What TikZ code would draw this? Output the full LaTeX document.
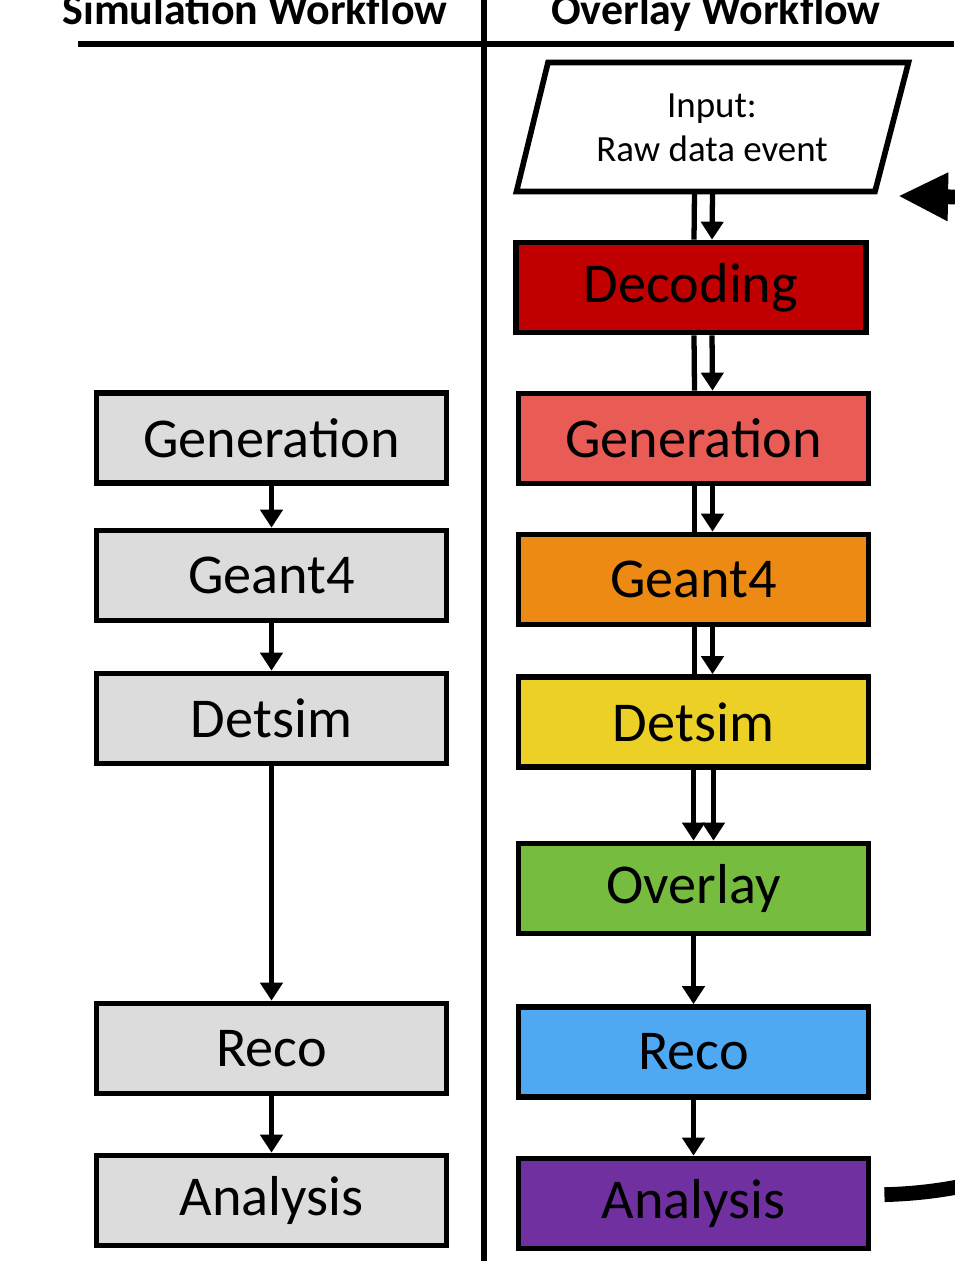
\documentclass[tikz,border=0pt]{standalone}
\usepackage{fontspec}
\setmainfont{Carlito}
\usetikzlibrary{arrows.meta}

\definecolor{simgray}{HTML}{DCDCDC}
\definecolor{decred}{HTML}{C00000}
\definecolor{genred}{HTML}{E95C55}
\definecolor{g4orange}{HTML}{EC8A14}
\definecolor{detyellow}{HTML}{EDD025}
\definecolor{ovlgreen}{HTML}{76BC3E}
\definecolor{recoblue}{HTML}{4EA9F2}
\definecolor{anapurple}{HTML}{7030A0}

\begin{document}
\begin{tikzpicture}[x=0.01cm, y=-0.01cm,
    box/.style={draw, line width=1.6pt, minimum width=3.5cm, minimum height=0.9cm,
        inner sep=0pt, font=\fontsize{16}{19}\selectfont},
    lin/.style={line width=1.5pt},
    arr/.style={line width=1.5pt, -{Triangle[length=0.18cm, width=0.22cm]}}]
    \useasboundingbox (0,0) rectangle (954,1261);

    % naslova in razdelilni črti
    \node[anchor=base, font=\bfseries\fontsize{12.5}{15}\selectfont] (simt) at (255,25) {Simulation Workflow};
    \node[anchor=base, font=\bfseries\fontsize{12.5}{15}\selectfont] (ovlt) at (716,25) {Overlay Workflow};
    \draw[line width=1.8pt] (78,44) -- (954,44);
    \draw[line width=1.5pt] (484,0) -- (484,1261);

    % simulacija
    \node[box, fill=simgray] (sgen) at (271.5,438) {Generation};
    \node[box, fill=simgray] (sg4) at (271.5,575.5) {Geant4};
    \node[box, fill=simgray] (sdet) at (271.5,718.5) {Detsim};
    \node[box, fill=simgray] (sreco) at (271.5,1048.5) {Reco};
    \node[box, fill=simgray] (sana) at (271.5,1200.5) {Analysis};
    \draw[arr] (sgen) -- (sg4);
    \draw[arr] (sg4) -- (sdet);
    \draw[arr] (sdet) -- (sreco);
    \draw[arr] (sreco) -- (sana);

    % vhod
    \draw[line width=1.6pt, fill=white] (548,62.5) -- (908.5,62.5) -- (875,191.5) -- (516.5,191.5) -- cycle;
    \node[align=center, font=\fontsize{10.5}{12.6}\selectfont] (inp) at (712,128) {Input:\\Raw data event};
    \coordinate (inpb) at (692.5,191.5);
    \coordinate (inpr) at (898,196);

    % overlay
    \node[box, fill=decred] (odec) at (691,287.5) {Decoding};
    \node[box, fill=genred] (ogen) at (693.5,438.5) {Generation};
    \node[box, fill=g4orange] (og4) at (693.5,579.5) {Geant4};
    \node[box, fill=detyellow] (odet) at (693.5,722) {Detsim};
    \node[box, fill=ovlgreen] (oovl) at (693.5,888.5) {Overlay};
    \node[box, fill=recoblue] (oreco) at (693.5,1052) {Reco};
    \node[box, fill=anapurple] (oana) at (693.5,1203.5) {Analysis};

    \draw[lin] ([xshift=0.02cm]inpb) -- ([xshift=0.03cm]odec.north);
    \draw[arr] ([xshift=0.2cm]inpb) -- ([xshift=0.21cm]odec.north);
    \draw[lin] ([xshift=0.03cm]odec.south) -- ([xshift=0.01cm]ogen.north);
    \draw[arr] ([xshift=0.21cm]odec.south) -- ([xshift=0.19cm]ogen.north);
    \draw[lin] ([xshift=0.01cm]ogen.south) -- ([xshift=0.01cm]og4.north);
    \draw[arr] ([xshift=0.19cm]ogen.south) -- ([xshift=0.19cm]og4.north);
    \draw[lin] ([xshift=0.01cm]og4.south) -- ([xshift=0.01cm]odet.north);
    \draw[arr] ([xshift=0.19cm]og4.south) -- ([xshift=0.19cm]odet.north);
    \draw[arr] ([xshift=0cm]odet.south) -- ([xshift=0cm]oovl.north);
    \draw[arr] ([xshift=0.2cm]odet.south) -- ([xshift=0.2cm]oovl.north);
    \draw[arr] (oovl) -- (oreco);
    \draw[arr] (oreco) -- (oana);

    % povratna puščica
    \draw[line width=4.2pt, shorten <=0.13cm, -{Triangle[length=0.5cm, width=0.45cm]}]
        ([yshift=0.085cm]oana.east) .. controls (1450,1180) and (1450,205) .. (inpr);
\end{tikzpicture}
\end{document}
